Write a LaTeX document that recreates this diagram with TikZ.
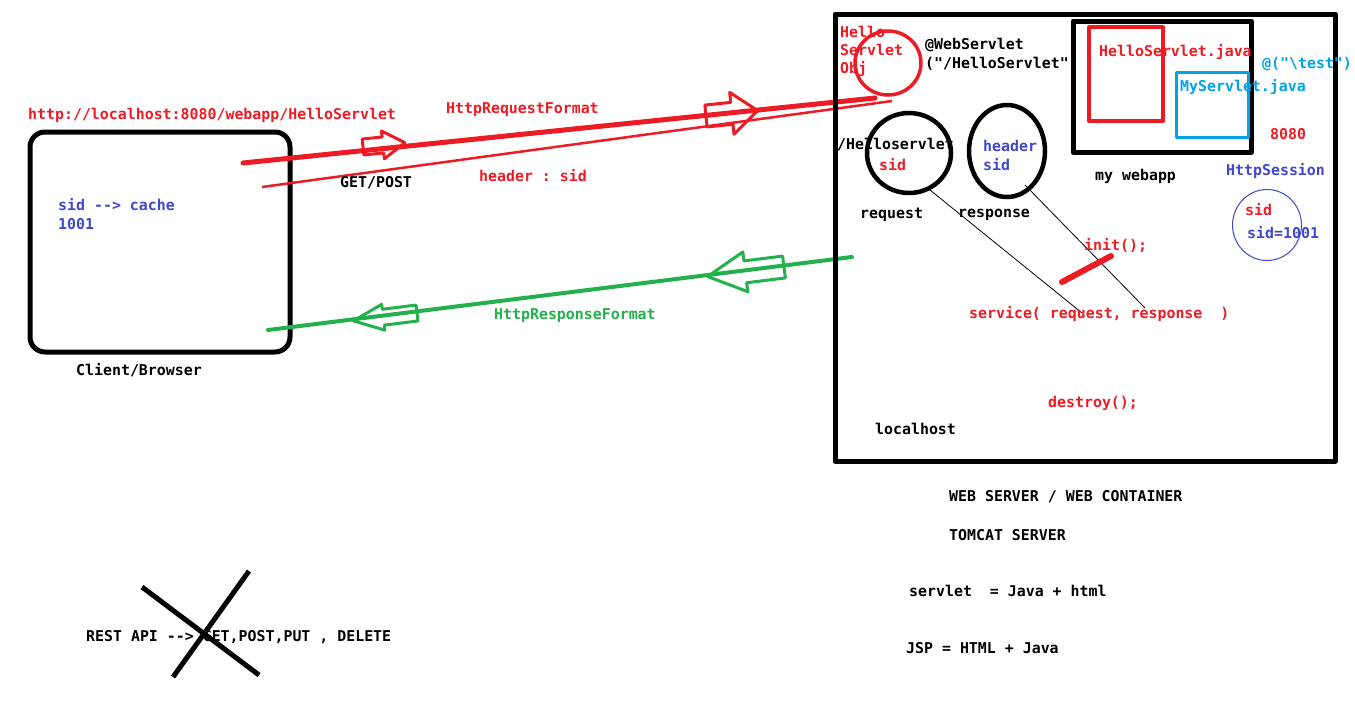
\documentclass[tikz,border=0pt]{standalone}
\usepackage{fontspec}
\setmonofont{DejaVu Sans Mono}
\usetikzlibrary{calc}
\definecolor{pred}{HTML}{ED1C24}
\definecolor{pgreen}{HTML}{22B14C}
\definecolor{pblue}{HTML}{3F48CC}
\definecolor{pcyan}{HTML}{00A2E8}
\tikzset{lbl/.style = {font=\ttfamily\bfseries\fontsize{14.9}{16}\selectfont, anchor=west, inner sep=0pt, yshift=-2pt}}
\tikzset{pics/blockarrow/.style args = {#1,#2,#3,#4}{code = {
  \draw (0,-#3) -- (#2,-#3) -- (#2,-#4) -- (#1,0) -- (#2,#4) -- (#2,#3) -- (0,#3) -- cycle;}}}

\begin{document}
\begin{tikzpicture}[x=1pt, y=-1pt, line join=round]
\useasboundingbox (0,0) rectangle (1355,716);
% client side
\draw[line width=5pt, rounded corners=15pt] (30,132) rectangle (290,352);
\node[lbl, pred] (url) at (28,113) {http://localhost:8080/webapp/HelloServlet};
\node[lbl, pblue] (cache) at (58,203) {sid --> cache};
\node[lbl, pblue] (sidval) at (58,222) {1001};
\node[lbl] (client) at (76,368) {Client/Browser};
% request / response lines
\coordinate (reqA) at (243,163);
\coordinate (reqB) at (875,98);
\coordinate (hdrA) at (262,187);
\coordinate (hdrB) at (892,101);
\coordinate (resA) at (852,257);
\coordinate (resB) at (268,330);
\draw[pred, line width=5pt, line cap=round] (reqA) -- (reqB);
\draw[pred, line width=2.5pt] (hdrA) -- (hdrB);
\draw[pgreen, line width=4pt, line cap=round] (resA) -- (resB);
\pic[pred, line width=3pt, rotate=5.9] at (363,147) {blockarrow={42,20,8,14}};
\pic[pred, line width=3pt, rotate=5.9] at (706,116) {blockarrow={52,26,11,21}};
\pic[pgreen, line width=3pt, rotate=187.1] at (784,267) {blockarrow={77,39,11,20}};
\pic[pgreen, line width=3pt, rotate=187.1] at (417,313) {blockarrow={64,34,8,13}};
\node[lbl, pred] (reqfmt) at (446,108) {HttpRequestFormat};
\node[lbl] (method) at (340,181) {GET/POST};
\node[lbl, pred] (hdr) at (479,174) {header : sid};
\node[lbl, pgreen] (resfmt) at (494,314) {HttpResponseFormat};
% server
\draw[line width=5pt] (835,14) rectangle (1335,461);
\node[lbl, pred] (obj1) at (840,30) {Hello};
\node[lbl, pred] (obj2) at (840,48) {Servlet};
\node[lbl, pred] (obj3) at (840,67) {Obj};
\draw[pred, line width=3.5pt] (888,63) ellipse (33 and 32);
\node[lbl] (anno1) at (925,43) {@WebServlet};
\node[lbl] (anno2) at (925,62) {("/HelloServlet"};
\draw[line width=5pt] (1073,21) rectangle (1251,152);
\draw[pred, line width=4pt] (1089,27) rectangle (1163,121);
\node[lbl, pred] (hjava) at (1099,50) {HelloServlet.java};
\draw[pcyan, line width=3pt] (1176,72) rectangle (1248,137);
\node[lbl, pcyan] (mjava) at (1180,85) {MyServlet.java};
\node[lbl, pcyan] (test) at (1262,62) {@("\textbackslash test")};
\node[lbl, pred] (port) at (1270,132) {8080};
\node[lbl, pblue] (sess) at (1226,169) {HttpSession};
\node[lbl] (webapp) at (1095,174) {my webapp};
\draw[line width=4.5pt] (909,153) ellipse (42 and 40);
\draw[line width=4.5pt] (1007,151) ellipse (38 and 46);
\node[lbl] (path) at (837,143) {/Helloservlet};
\node[lbl, pred] (rsid) at (879,163) {sid};
\node[lbl, pblue] (rhdr) at (983,144) {header};
\node[lbl, pblue] (rhsid) at (983,163) {sid};
\node[lbl] (req) at (860,213) {request};
\node[lbl] (res) at (958,213) {response};
\draw[line width=0.8pt] (930,190) -- (1082,313);
\draw[line width=0.8pt] (1025,185) -- (1145,308);
\node[lbl, pred] (init) at (1084,243) {init();};
\draw[pred, line width=6pt, line cap=round] (1062,282) -- (1111,256);
\node[lbl, pred] (serv) at (969,312) {service( request, response\ \ )};
\node[lbl, pred] (destroy) at (1048,401) {destroy();};
\node[lbl] (host) at (875,427) {localhost};
\draw[pblue, line width=1pt] (1267,225) ellipse (34.5 and 35.5);
\node[lbl, pred] (ssid) at (1245,208) {sid};
\node[lbl, pblue] (ssidv) at (1247,231) {sid=1001};
% notes
\node[lbl] (web) at (949,495) {WEB SERVER / WEB CONTAINER};
\node[lbl] (tomcat) at (949,533) {TOMCAT SERVER};
\node[lbl] (servlet) at (909,589) {servlet\ \ = Java + html};
\node[lbl] (jsp) at (906,646) {JSP = HTML + Java};
\node[lbl] (rest) at (86,635) {REST API --> GET,POST,PUT , DELETE};
\draw[line width=5pt] (142,587) -- (259,675);
\draw[line width=5pt] (249,571) -- (173,677);
\end{tikzpicture}
\end{document}
